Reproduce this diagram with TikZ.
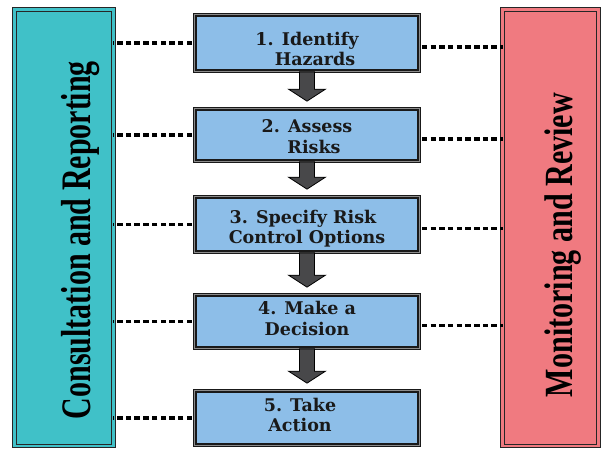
\documentclass[tikz,border=0pt]{standalone}
\usepackage{fontspec}
\setmainfont{Liberation Serif}
\newfontfamily\boxfont{DejaVu Serif}
\usetikzlibrary{calc}
\definecolor{tealbox}{RGB}{64,193,200}
\definecolor{salmonbox}{RGB}{240,122,128}
\definecolor{bluebox}{RGB}{141,190,232}
\definecolor{arrowgray}{RGB}{72,72,74}
\newcommand\flowarrow[2]{%
  \draw[flowarr] ($(#1.south)+(-7.5,0)$) -- ($(#2.north)+(-7.5,-19)$) -- ($(#2.north)+(-18.5,-19)$)
    -- ($(#2.north)+(0,-7)$) -- ($(#2.north)+(18.5,-19)$) -- ($(#2.north)+(7.5,-19)$)
    -- ($(#1.south)+(7.5,0)$) -- cycle;}
\begin{document}
\begin{tikzpicture}[x=1pt,y=-1pt,
  sidebox/.style={draw=black!85, line width=0.8pt, double=#1, double distance=2.6pt,
    fill=#1, inner sep=0pt, minimum height=436.5pt},
  stepbox/.style={draw=black!90, line width=1.3pt, double=black!45, double distance=1.2pt,
    fill=bluebox, minimum width=224.4pt, inner sep=0pt},
  steptext/.style={inner sep=0pt, align=center,
    font=\boxfont\bfseries\fontsize{17.5}{20.5}\selectfont, text=black!90},
  sidetext/.style={rotate=90, anchor=base, inner sep=0pt, font=\bfseries, text=black},
  dotline/.style={line width=3.4pt, dash pattern=on 5.5pt off 3.2pt, draw=black},
  flowarr/.style={fill=arrowgray, draw=black, line width=0.8pt, line join=miter}]
\useasboundingbox (0,0) rectangle (603,448);

% side boxes
\node[sidebox=tealbox, minimum width=99pt] (L) at (64,227.75) {};
\node[sidebox=salmonbox, minimum width=96pt] (R) at (550.5,227.75) {};

\path
  (307,43)    coordinate (c1)
  (307,135)   coordinate (c2)
  (307,224.5) coordinate (c3)
  (307,321.5) coordinate (c4)
  (307,418)   coordinate (c5);

\node[stepbox, minimum height=56.4pt] (b1) at (c1) {};
\node[stepbox, minimum height=52.4pt] (b2) at (c2) {};
\node[stepbox, minimum height=55.4pt] (b3) at (c3) {};
\node[stepbox, minimum height=53.4pt] (b4) at (c4) {};
\node[stepbox, minimum height=54.4pt] (b5) at (c5) {};

\node[steptext] (t1) at ($(c1)+(0,6)$) {1. Identify\\\hspace*{16pt}Hazards};
\node[steptext] (t2) at ($(c2)+(0,1.5)$) {2. Assess\\\hspace*{14pt}Risks};
\node[steptext] (t3) at ($(c3)+(-4,4)$) {3. Specify Risk\\\hspace*{8pt}Control Options};
\node[steptext] (t4) at ($(c4)+(0,-3)$) {4. Make a\\Decision};
\node[steptext] (t5) at ($(c5)+(-7,-3)$) {5. Take\\Action};

% connectors
\foreach \b in {b1,b2,b3,b4,b5}{
  \draw[dotline] ([xshift=-2pt]\b.west) -- ([xshift=-1pt]\b.west -| L.east);
}
\foreach \b in {b1,b2,b3,b4}{
  \draw[dotline] ([xshift=2pt,yshift=-4pt]\b.east) -- ([xshift=1pt,yshift=-4pt]\b.east -| R.west);
}

\flowarrow{b1}{b2}
\flowarrow{b2}{b3}
\flowarrow{b3}{b4}
\flowarrow{b4}{b5}

% side texts
\node[sidetext, font=\bfseries\fontsize{42}{48}\selectfont] (Lt) at (90,240)
  {\resizebox{358pt}{\height}{Consultation and Reporting}};
\node[sidetext, font=\bfseries\fontsize{40}{46}\selectfont] (Rt) at (572,245)
  {\resizebox{304pt}{\height}{Monitoring and Review}};
\end{tikzpicture}
\end{document}
